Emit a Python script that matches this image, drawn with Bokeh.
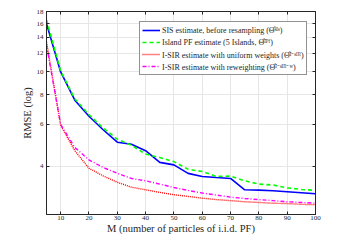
from bokeh.plotting import figure
from bokeh.models import LinearAxis, LogAxis, FixedTicker, Legend, LegendItem, Range1d, Title
from bokeh.embed import file_html
from bokeh.resources import INLINE

M = [5, 10, 15, 20, 25, 30, 35, 40, 45, 50, 55, 60, 65, 70, 75, 80, 85, 90, 95, 100]
sis = [16.0, 10.0, 7.6, 6.5, 5.7, 5.05, 4.95, 4.65, 4.15, 4.05, 3.73, 3.62, 3.58, 3.55, 3.18, 3.17, 3.15, 3.12, 3.09, 3.06]
island = [16.6, 10.1, 7.7, 6.6, 5.8, 5.2, 4.9, 4.5, 4.35, 4.18, 3.88, 3.80, 3.62, 3.63, 3.47, 3.36, 3.33, 3.24, 3.19, 3.16]
isir_uniform = [13.4, 5.95, 4.65, 3.92, 3.64, 3.42, 3.26, 3.18, 3.10, 3.03, 2.98, 2.93, 2.89, 2.86, 2.83, 2.81, 2.79, 2.78, 2.76, 2.75]
isir_reweight = [13.0, 6.0, 4.8, 4.25, 3.95, 3.73, 3.55, 3.47, 3.36, 3.25, 3.16, 3.08, 3.02, 2.96, 2.92, 2.89, 2.86, 2.83, 2.81, 2.79]
x_ticks = [10, 20, 30, 40, 50, 60, 70, 80, 90, 100]
y_ticks = [4, 6, 8, 10, 12, 14, 16, 18]
x_label = "M (number of particles of i.i.d. PF)"
y_label = "RMSE (log)"
labels = [
    "SIS estimate, before resampling (\u0398\u0302\u02e2\u1d35\u02e2)",
    "Island PF estimate (5 Islands, \u0398\u0302\u1d35\u1d3e\u1da0)",
    "I-SIR estimate with uniform weights (\u0398\u0302\u1d35\u207b\u02e2\u1d35\u1d3f)",
    "I-SIR estimate with reweighting (\u0398\u0302\u1d35\u207b\u02e2\u1d35\u1d3f\u207b\u02b7)",
]

FONT = "Liberation Serif"

p = figure(width=339, height=234, y_axis_type="log", output_backend="svg",
           toolbar_location=None, x_range=Range1d(5, 100), y_range=Range1d(2.5, 18),
           min_border_left=46, min_border_top=11, min_border_right=24, min_border_bottom=20)
p.outline_line_color = "#262626"
p.background_fill_color = "white"
p.border_fill_color = "white"

r1 = p.line(M, sis, line_color="#0000ff", line_width=1.6)
r2 = p.line(M, island, line_color="#00ff00", line_width=1.6, line_dash="4 3")
r3 = p.line(M, isir_uniform, line_color="#ff0000", line_width=1.4, line_dash="1 1")
r4 = p.line(M, isir_reweight, line_color="#ff00ff", line_width=1.4, line_dash="4 2 1 2")

for ax in p.xaxis:
    ax.ticker = FixedTicker(ticks=x_ticks)
for ax in p.yaxis:
    ax.ticker = FixedTicker(ticks=y_ticks)

def style(ax, show_labels=True, ticks=None):
    ax.major_tick_in = 3
    ax.major_tick_out = 0
    ax.minor_tick_in = 0
    ax.minor_tick_out = 0
    ax.axis_line_color = "#262626"
    ax.major_tick_line_color = "#262626"
    ax.major_label_text_font = FONT
    ax.major_label_text_font_size = "7px"
    ax.major_label_text_color = "#262626"
    if not show_labels:
        ax.major_label_overrides = {t: "" for t in ticks}
        ax.major_label_standoff = 0

style(p.xaxis[0])
style(p.yaxis[0])
p.xaxis[0].major_label_standoff = 1
p.yaxis[0].major_label_standoff = 3

top = LinearAxis(ticker=FixedTicker(ticks=x_ticks))
style(top, False, x_ticks)
p.add_layout(top, "above")
right = LogAxis(ticker=FixedTicker(ticks=y_ticks))
style(right, False, y_ticks)
p.add_layout(right, "right")

xt = Title(text=x_label, align="center", text_font=FONT, text_font_size="10.5px",
           text_font_style="normal", text_color="#262626", standoff=-3, offset=0,
           text_line_height=0.7)
p.add_layout(xt, "below")
yt = Title(text=y_label, align="center", text_font=FONT, text_font_size="10.5px",
           text_font_style="normal", text_color="#262626", standoff=2, offset=0)
p.add_layout(yt, "left")

p.xgrid.grid_line_color = "#e6e6e6"
p.ygrid.grid_line_color = "#e6e6e6"
p.xgrid.ticker = FixedTicker(ticks=x_ticks)
p.ygrid.ticker = FixedTicker(ticks=y_ticks)

legend = Legend(items=[LegendItem(label=l, renderers=[r]) for l, r in zip(labels, [r1, r2, r3, r4])],
                location=(93, 139))
legend.label_text_font = FONT
legend.label_text_font_size = "8px"
legend.label_text_color = "#262626"
legend.label_standoff = 2
legend.glyph_width = 18
legend.glyph_height = 12
legend.label_height = 12
legend.spacing = 0
legend.padding = 2
legend.margin = 0
legend.border_line_color = "#262626"
legend.border_line_width = 1
legend.background_fill_alpha = 1
p.add_layout(legend, "center")

open("out.html", "w").write(file_html(p, INLINE))
